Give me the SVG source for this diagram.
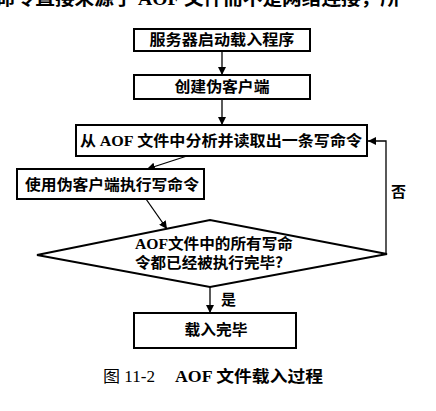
<svg xmlns="http://www.w3.org/2000/svg" width="436" height="411" viewBox="0 0 436 411">
<defs>
<marker id="ah" viewBox="0 0 10 10" refX="10" refY="5" markerWidth="8" markerHeight="8" markerUnits="userSpaceOnUse" orient="auto">
<path d="M0,0 L10,5 L0,10 z" fill="#000"/>
</marker>
<style>
.box{fill:#fff;stroke:#000;stroke-width:2}
.t{font-family:"Noto Sans CJK SC","Noto Sans",sans-serif;font-weight:700;font-size:15px;fill:#000}
.lat{font-family:"Liberation Serif",serif;font-weight:700}
.c{stroke:#000;stroke-width:1.3;fill:none}
.cap{font-family:"Liberation Serif","Noto Sans CJK SC",serif;font-size:16px;fill:#000}
</style>
</defs>
<rect width="436" height="411" fill="#fff"/>
<text class="t" x="-4" y="5" textLength="404" lengthAdjust="spacingAndGlyphs" style="font-size:18px">命令直接来源于 <tspan class="lat">AOF</tspan> 文件而不是网络连接，所</text>
<g id="connectors">
<line class="c" x1="222" y1="51" x2="222" y2="75" marker-end="url(#ah)"/>
<line class="c" x1="222" y1="99" x2="222" y2="125" marker-end="url(#ah)"/>
<line class="c" x1="187" y1="156" x2="147" y2="169" marker-end="url(#ah)"/>
<line class="c" x1="146" y1="199" x2="167" y2="229" marker-end="url(#ah)"/>
<line class="c" x1="210" y1="287" x2="210" y2="313" marker-end="url(#ah)"/>
<polyline class="c" points="387,254 386,254 386,141 368,141" marker-end="url(#ah)"/>
<text class="t" x="221" y="305">是</text>
<text class="t" x="391" y="197">否</text>
</g>
<g id="n1">
<rect class="box" x="134" y="29" width="176" height="22"/>
<text class="t" x="222" y="45" text-anchor="middle" textLength="145" lengthAdjust="spacingAndGlyphs">服务器启动载入程序</text>
</g>
<g id="n2">
<rect class="box" x="134" y="75" width="176" height="24"/>
<text class="t" x="222" y="92" text-anchor="middle" textLength="95" lengthAdjust="spacingAndGlyphs">创建伪客户端</text>
</g>
<g id="n3">
<rect class="box" x="76" y="125" width="291" height="31"/>
<text class="t" x="80" y="146" textLength="282" lengthAdjust="spacingAndGlyphs">从 <tspan class="lat">AOF</tspan> 文件中分析并读取出一条写命令</text>
</g>
<g id="n4">
<rect class="box" x="17" y="169" width="187" height="30"/>
<text class="t" x="25" y="190" textLength="174" lengthAdjust="spacingAndGlyphs">使用伪客户端执行写命令</text>
</g>
<g id="n5">
<polygon class="box" points="37,255 210,220 387,254 210,287"/>
<text class="t" x="135" y="249" textLength="158" lengthAdjust="spacingAndGlyphs"><tspan class="lat">AOF</tspan>文件中的所有写命</text>
<text class="t" x="135" y="268" textLength="148" lengthAdjust="spacingAndGlyphs">令都已经被执行完毕?</text>
</g>
<g id="n6">
<rect class="box" x="134" y="313" width="162" height="35"/>
<text class="t" x="216" y="335" text-anchor="middle" textLength="63" lengthAdjust="spacingAndGlyphs">载入完毕</text>
</g>
<text class="cap" x="103" y="382" textLength="52" lengthAdjust="spacingAndGlyphs">图 11-2</text>
<text class="cap" x="175" y="382" font-weight="700" textLength="148" lengthAdjust="spacingAndGlyphs">AOF 文件载入过程</text>
</svg>
